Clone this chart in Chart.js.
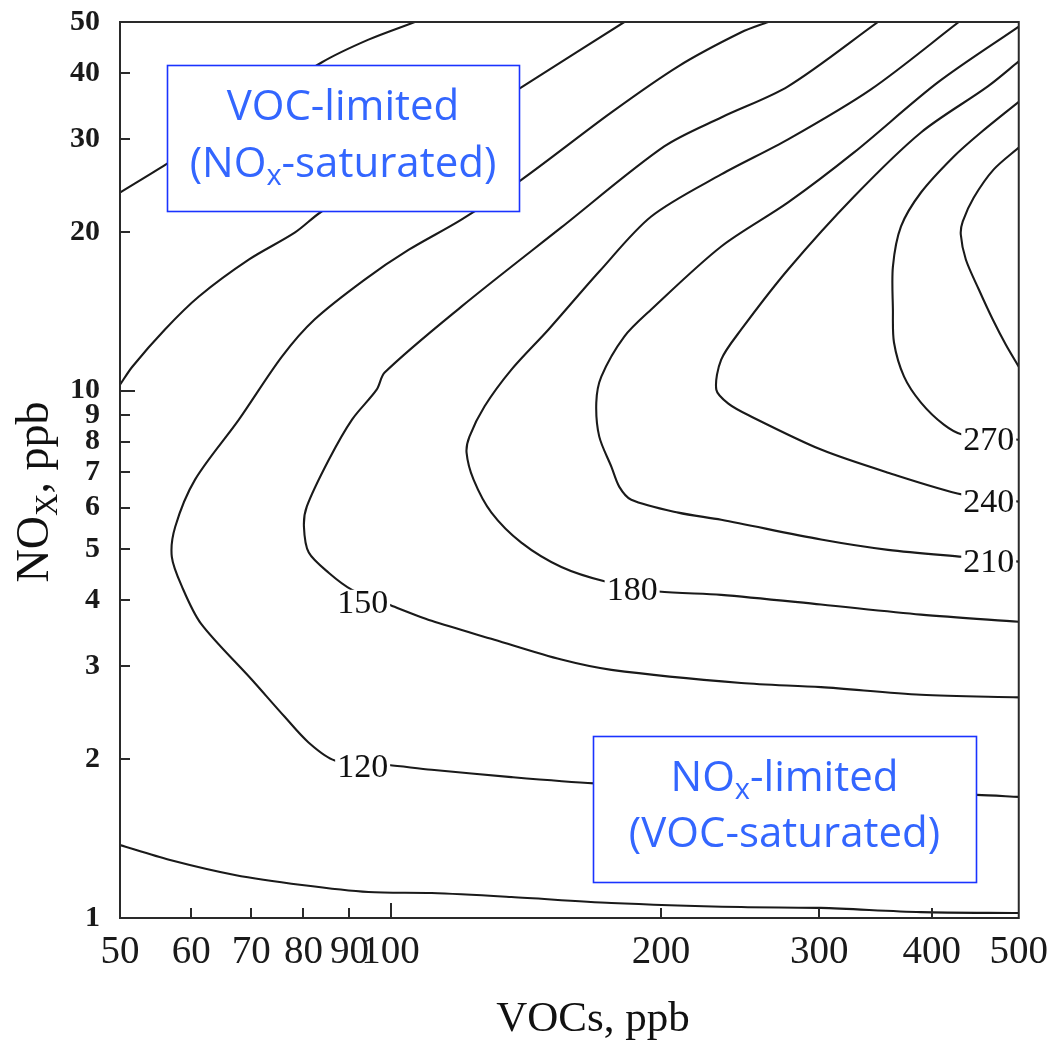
<!DOCTYPE html>
<html><head><meta charset="utf-8">
<script src="https://cdn.jsdelivr.net/npm/chart.js@4.4.1/dist/chart.umd.min.js"></script>
<style>html,body{margin:0;padding:0;background:#fff;}</style>
</head><body>
<canvas id="c" width="1059" height="1042"></canvas>
<script>
// ---- axis ticks ----
const xTicks = [50, 60, 70, 80, 90, 100, 200, 300, 400, 500];
const yTicks = [1, 2, 3, 4, 5, 6, 7, 8, 9, 10, 20, 30, 40, 50];

// ---- contour lines (VOC ppb, NOx ppb) ----
const cAVoc = [50, 56.7, 68.3, 83.8, 94.5, 106.4];
const cANox = [23.75, 27.1, 33.4, 41.9, 46.3, 50];

const cBVoc = [50, 51.6, 56.1, 61.2, 69.6, 78.3, 83.8, 108.3, 139.8, 182];
const cBNox = [10.26, 11.1, 13.06, 15.08, 17.73, 19.95, 21.86, 28.66, 37.6, 50];

const c90Voc = [50, 56.7, 67.1, 79.7, 94.5, 111.1, 136.3, 176.1, 245.6, 301, 389, 500];
const c90Nox = [1.375, 1.29, 1.207, 1.155, 1.12, 1.115, 1.096, 1.068, 1.049, 1.045, 1.026, 1.022];

const c120Voc = [263.1, 245.6, 209, 176.1, 139.8, 119.9, 104.8, 93.6, 82.3, 75.7, 67.8, 60.6, 57.6, 57.1, 58.6, 61.5, 70.1, 76.2, 81.1, 86.7, 99.5, 111.1, 136.3, 168.6, 221.7, 325.3, 449, 500];
const c120Nox = [50, 47.8, 41.2, 33.7, 25.1, 21.1, 18.5, 16.24, 13.64, 11.6, 8.81, 6.78, 5.52, 4.84, 4.25, 3.62, 2.83, 2.41, 2.15, 1.99, 1.95, 1.91, 1.85, 1.80, 1.765, 1.727, 1.712, 1.697];

const c150Voc = [348.6, 276.9, 233.3, 201.6, 154.9, 119.9, 98.5, 96.5, 90.6, 85.4, 80.7, 80.1, 81.1, 85.4, 90.6, 99.5, 111.1, 130.5, 154.9, 176.1, 245.6, 301.3, 389.2, 500];
const c150Nox = [50, 37.75, 32.96, 29.04, 20.39, 14.43, 10.82, 10.04, 8.81, 7.40, 6.03, 5.52, 4.93, 4.51, 4.19, 3.93, 3.66, 3.37, 3.09, 2.955, 2.79, 2.74, 2.65, 2.62];

const c180Voc = [428.8, 342.4, 276.9, 233.3, 195, 170.7, 149.9, 136.3, 127.2, 122.4, 121.5, 123.7, 129.5, 139.8, 154.9, 173.8, 198.6, 233.3, 301.3, 389.2, 500];
const c180Nox = [50, 37.26, 29.95, 25.7, 21.39, 16.82, 13.06, 10.96, 9.33, 8.18, 7.63, 6.78, 5.87, 5.15, 4.63, 4.34, 4.16, 4.10, 3.93, 3.76, 3.645];

const c210Voc = [500, 406.4, 327.9, 276.9, 233.3, 195, 182, 171.6, 169.4, 170.7, 176.1, 179.7, 185.3, 209, 233.3, 301.3, 357.7, 433.2, 500];
const c210Nox = [49, 38.4, 28.29, 22.74, 18.76, 14.25, 12.66, 10.63, 9.49, 8.18, 7.17, 6.57, 6.21, 5.87, 5.69, 5.22, 4.99, 4.84, 4.74];

const c240Voc = [500, 461.9, 389.2, 327.9, 276.9, 245.6, 233.3, 230.4, 237.6, 250.6, 301.3, 357.7, 433.2, 500];
const c240Nox = [42.1, 37.75, 30.87, 23.34, 16.97, 13.06, 11.45, 10.04, 9.45, 8.97, 7.73, 6.99, 6.35, 6.16];

const c270Voc = [500, 453.7, 423.4, 389.2, 369.8, 362.2, 362.2, 363.2, 372.7, 389.2, 412.7, 433.2, 500];
const c270Nox = [35.3, 30.87, 27.8, 23.75, 20.48, 17.19, 14.25, 12.34, 10.63, 9.49, 8.62, 8.25, 8.07];

const c300Voc = [500, 469, 445.6, 433.2, 431, 436.6, 451.4, 467.8, 483.6, 500];
const c300Nox = [28.9, 26.27, 23.23, 20.93, 19.77, 17.73, 15.55, 13.64, 12.23, 11.1];

// ---- contour labels ----
const labelText = ['120', '150', '180', '210', '240', '270'];
const labelVoc = [93.1, 93.1, 185.7, 463, 463, 463];
const labelNox = [1.934, 3.96, 4.193, 4.738, 6.157, 8.07];

// ---- region annotations ----
const regionLine1 = ['VOC-limited', 'NOx-limited'];
const regionLine2 = ['(NOx-saturated)', '(VOC-saturated)'];

const contours = [
  [cAVoc, cANox], [cBVoc, cBNox], [c90Voc, c90Nox], [c120Voc, c120Nox],
  [c150Voc, c150Nox], [c180Voc, c180Nox], [c210Voc, c210Nox],
  [c240Voc, c240Nox], [c270Voc, c270Nox], [c300Voc, c300Nox]
];

const datasets = contours.map(([vx, ny]) => ({
  data: vx.map((v, i) => ({ x: v, y: ny[i] })),
  showLine: true,
  borderColor: '#1a1a1a',
  borderWidth: 2.1,
  pointRadius: 0,
  tension: 0.3,
  fill: false
}));

const BLUE_TEXT = '#3366ff';
const BLUE_BORDER = '#1a33ff';

function drawSubText(ctx, parts, cx, y, size, family) {
  let total = 0;
  const widths = parts.map(([t, sub]) => {
    ctx.font = (sub ? Math.round(size * 0.68) : size) + 'px ' + family;
    const w = ctx.measureText(t).width; total += w; return w;
  });
  let x = cx - total / 2;
  parts.forEach(([t, sub], i) => {
    ctx.font = (sub ? Math.round(size * 0.68) : size) + 'px ' + family;
    ctx.fillText(t, x, y + (sub ? size * 0.2 : 0));
    x += widths[i];
  });
}

function splitSub(str) {
  const idx = str.indexOf('NOx');
  if (idx < 0) return [[str, false]];
  return [[str.slice(0, idx + 2), false], ['x', true], [str.slice(idx + 3), false]];
}

const overlay = {
  id: 'overlay',
  afterDatasetsDraw(chart) {
    const ctx = chart.ctx;
    const xs = chart.scales.x, ys = chart.scales.y;
    const a = chart.chartArea;
    ctx.save();

    // contour labels
    ctx.font = '34px "Liberation Serif"';
    ctx.textAlign = 'center';
    ctx.textBaseline = 'middle';
    labelText.forEach((t, i) => {
      const px = xs.getPixelForValue(labelVoc[i]);
      const py = ys.getPixelForValue(labelNox[i]);
      const w = ctx.measureText(t).width;
      ctx.fillStyle = '#fff';
      ctx.fillRect(px - w / 2 - 2, py - 13, w + 4, 26);
      ctx.fillStyle = '#111';
      ctx.fillText(t, px, py + 1);
    });

    // region boxes
    const boxes = [
      { x0: 167, y0: 65, x1: 519, y1: 211, b1: 120, b2: 177 },
      { x0: 593, y0: 736, x1: 976, y1: 882, b1: 791, b2: 847 }
    ];
    boxes.forEach((b, i) => {
      ctx.fillStyle = '#fff';
      ctx.fillRect(b.x0, b.y0, b.x1 - b.x0, b.y1 - b.y0);
      ctx.strokeStyle = BLUE_BORDER;
      ctx.lineWidth = 1.6;
      ctx.strokeRect(b.x0 + 0.5, b.y0 + 0.5, b.x1 - b.x0, b.y1 - b.y0);
      ctx.fillStyle = BLUE_TEXT;
      ctx.textAlign = 'left';
      ctx.textBaseline = 'alphabetic';
      const cx = (b.x0 + b.x1) / 2;
      drawSubText(ctx, splitSub(regionLine1[i]), cx, b.b1, 42, '"Open Sans"');
      drawSubText(ctx, splitSub(regionLine2[i]), cx, b.b2, 42, '"Open Sans"');
    });

    // frame
    ctx.strokeStyle = '#2a2a2a';
    ctx.lineWidth = 2;
    ctx.strokeRect(a.left, a.top, a.right - a.left, a.bottom - a.top);

    // inward ticks
    ctx.lineWidth = 2;
    ctx.beginPath();
    yTicks.forEach(v => {
      if (v === 1 || v === 50) return;
      const py = Math.round(ys.getPixelForValue(v));
      const len = v === 10 ? 15 : 10;
      ctx.moveTo(a.left, py); ctx.lineTo(a.left + len, py);
    });
    xTicks.forEach(v => {
      if (v === 50 || v === 500) return;
      const px = Math.round(xs.getPixelForValue(v));
      const len = v === 100 ? 15 : 10;
      ctx.moveTo(px, a.bottom); ctx.lineTo(px, a.bottom - len);
    });
    ctx.stroke();

    // axis titles
    ctx.fillStyle = '#111';
    ctx.textAlign = 'center';
    ctx.textBaseline = 'alphabetic';
    ctx.font = '43px "Liberation Serif"';
    ctx.fillText('VOCs, ppb', 593, 1031);

    ctx.translate(48, 492);
    ctx.rotate(-Math.PI / 2);
    ctx.textAlign = 'left';
    drawSubText(ctx, [['NO', false], ['X', true], [', ppb', false]], 0, 0, 46, '"Liberation Serif"');
    ctx.restore();
  }
};

new Chart(document.getElementById('c'), {
  type: 'scatter',
  data: { datasets },
  options: {
    responsive: false,
    animation: false,
    devicePixelRatio: 1,
    layout: { padding: { left: 0, right: 40, top: 22, bottom: 0 } },
    plugins: { legend: { display: false }, tooltip: { enabled: false } },
    scales: {
      x: {
        type: 'logarithmic', min: 50, max: 500,
        afterBuildTicks: s => { s.ticks = xTicks.map(v => ({ value: v })); },
        afterFit: s => { s.height = 124; },
        grid: { display: false, drawTicks: false },
        border: { display: false },
        ticks: {
          autoSkip: false, maxRotation: 0, minRotation: 0, padding: 11,
          color: '#1a1a1a', font: { family: 'Liberation Serif', size: 39 },
          callback: v => String(v)
        }
      },
      y: {
        type: 'logarithmic', min: 1, max: 50,
        afterBuildTicks: s => { s.ticks = yTicks.map(v => ({ value: v })); },
        afterFit: s => { s.width = 120; s.paddingTop = 0; s.paddingBottom = 0; },
        grid: { display: false, drawTicks: false },
        border: { display: false },
        ticks: {
          autoSkip: false, padding: 20,
          color: '#1a1a1a', font: { family: 'Liberation Serif', size: 30, weight: 'bold' },
          callback: v => String(v)
        }
      }
    }
  },
  plugins: [overlay]
});
</script>
</body></html>
